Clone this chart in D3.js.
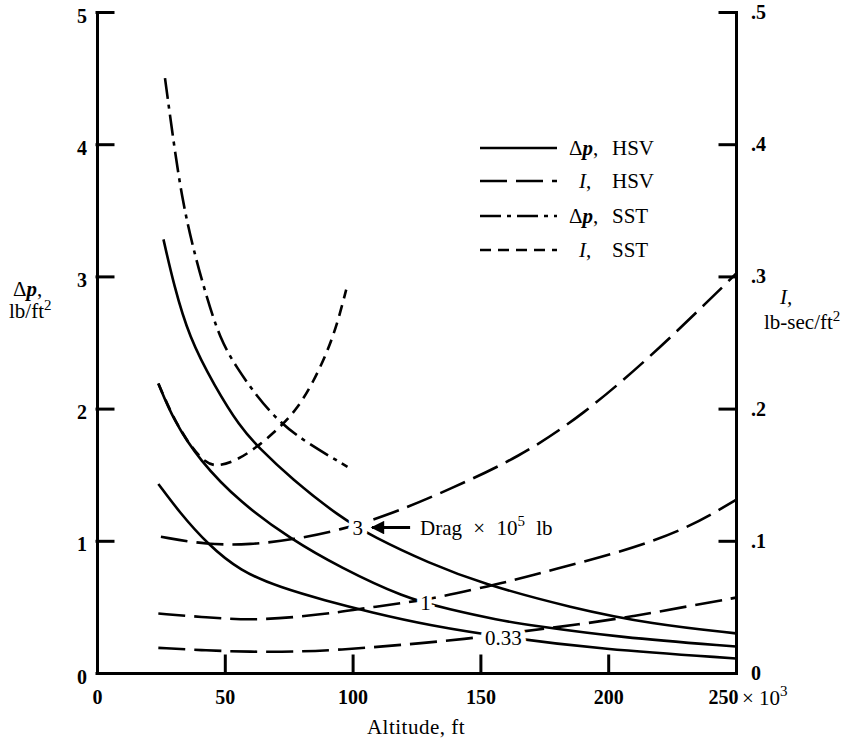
<!DOCTYPE html>
<html lang="en">
<head>
<meta charset="UTF-8">
<title>Overpressure and impulse vs altitude</title>
<script src="https://cdn.jsdelivr.net/npm/d3@7"></script>
<style>
  body { margin: 0; background: #fff; }
  svg { font-family: "Liberation Serif", "Times New Roman", serif; }
  .axis path, .axis line { stroke: #000; stroke-width: 3; stroke-linecap: square; }
  .axis text { font-size: 20px; font-weight: bold; fill: #000; font-family: "Liberation Serif", serif; }
  .curve { fill: none; stroke: #000; stroke-width: 2.6; }
  .lbl { font-size: 21px; fill: #000; }
</style>
</head>
<body>
<script>
// altitude in thousands of ft
const xTicks = [0, 50, 100, 150, 200, 250];
const yTicks = [0, 1, 2, 3, 4, 5];
const yRightTicks = [0, 0.1, 0.2, 0.3, 0.4, 0.5];

// delta p, HSV (solid), one curve per drag level
const altDpHsv3 = [26, 30, 36, 46, 56, 63, 76, 95, 108, 130, 150, 186, 217, 250];
const dpHsv3 = [3.28, 2.94, 2.54, 2.17, 1.86, 1.71, 1.47, 1.18, 1.03, 0.83, 0.68, 0.49, 0.37, 0.30];
const altDpHsv1 = [24, 30, 40, 56, 76, 95, 120, 138, 157, 170, 204, 250];
const dpHsv1 = [2.19, 1.91, 1.61, 1.29, 1.01, 0.80, 0.57, 0.48, 0.40, 0.36, 0.27, 0.20];
const altDpHsv033 = [24, 32.5, 43, 56, 72, 89, 107, 130, 159, 197, 250];
const dpHsv033 = [1.43, 1.21, 0.98, 0.77, 0.645, 0.55, 0.46, 0.36, 0.27, 0.18, 0.11];

// impulse, HSV (long dash)
const altIHsv3 = [25, 43, 60, 77, 95, 115, 138, 165, 190, 217, 240, 250];
const iHsv3 = [0.103, 0.097, 0.097, 0.101, 0.108, 0.120, 0.139, 0.163, 0.195, 0.240, 0.283, 0.302];
const altIHsv1 = [24, 43, 60, 77, 95, 108, 128, 147, 163, 178, 204, 230, 250];
const iHsv1 = [0.045, 0.042, 0.040, 0.042, 0.046, 0.050, 0.055, 0.063, 0.070, 0.078, 0.091, 0.108, 0.131];
const altIHsv033 = [24, 43, 60, 77, 95, 118, 146, 160, 190, 210, 230, 250];
const iHsv033 = [0.019, 0.017, 0.016, 0.016, 0.0175, 0.021, 0.026, 0.030, 0.037, 0.043, 0.050, 0.057];

// SST
const altDpSst = [26.6, 30, 33.2, 37.1, 42.3, 48.2, 54.7, 62.6, 71.7, 82.2, 98];
const dpSst = [4.50, 4.01, 3.60, 3.25, 2.88, 2.52, 2.31, 2.09, 1.89, 1.74, 1.56];
const altISst = [24, 29.8, 36.4, 42.3, 47, 54.9, 62.7, 71.7, 78.4, 84.6, 90.1, 94, 97.5];
const iSst = [0.219, 0.193, 0.172, 0.159, 0.156, 0.161, 0.171, 0.186, 0.200, 0.220, 0.243, 0.264, 0.290];

const legendSymbols = ["Δp", "I", "Δp", "I"];
const legendCraft = ["HSV", "HSV", "SST", "SST"];

const dragLabels = ["3", "1", "0.33"];
const dragLabelAlt = [102, 128.5, 159];
const dragLabelDp = [1.10, 0.53, 0.265];

const width = 858, height = 740;
const svg = d3.select("body").append("svg")
  .attr("width", width)
  .attr("height", height);

const x = d3.scaleLinear().domain([0, 250]).range([97, 736]);
const y = d3.scaleLinear().domain([0, 5]).range([673, 12]);
const yI = d3.scaleLinear().domain([0, 0.5]).range([673, 12]);

const dashes = { solid: null, longDash: "27,9", dashDot: "21,6,4,6", shortDash: "11,7" };

const series = [
  { alt: altDpHsv3, v: dpHsv3, scale: y, dash: dashes.solid },
  { alt: altDpHsv1, v: dpHsv1, scale: y, dash: dashes.solid },
  { alt: altDpHsv033, v: dpHsv033, scale: y, dash: dashes.solid },
  { alt: altIHsv3, v: iHsv3, scale: yI, dash: dashes.longDash },
  { alt: altIHsv1, v: iHsv1, scale: yI, dash: dashes.longDash },
  { alt: altIHsv033, v: iHsv033, scale: yI, dash: dashes.longDash },
  { alt: altDpSst, v: dpSst, scale: y, dash: dashes.dashDot },
  { alt: altISst, v: iSst, scale: yI, dash: dashes.shortDash }
];

series.forEach(s => {
  const line = d3.line()
    .x(d => x(d[0]))
    .y(d => s.scale(d[1]))
    .curve(d3.curveBasis);
  svg.append("path")
    .attr("class", "curve")
    .attr("d", line(d3.zip(s.alt, s.v)))
    .attr("stroke-dasharray", s.dash);
});

// axes
svg.append("g").attr("class", "axis")
  .attr("transform", "translate(" + x(0) + ",0)")
  .call(d3.axisLeft(y).tickValues(yTicks).tickSizeInner(-16).tickSizeOuter(0)
    .tickPadding(10).tickFormat(d3.format("d")))
  .selectAll(".tick text").attr("dy", "0.5em");

const xAxis = svg.append("g").attr("class", "axis")
  .attr("transform", "translate(0," + y(0) + ")")
  .call(d3.axisBottom(x).tickValues(xTicks).tickSizeInner(-17).tickSizeOuter(0)
    .tickPadding(17).tickFormat(d3.format("d")));
xAxis.selectAll(".tick text").filter(d => d === 250).attr("x", -13);

svg.append("g").attr("class", "axis")
  .attr("transform", "translate(" + x(250) + ",0)")
  .call(d3.axisRight(yI).tickValues(yRightTicks).tickSizeInner(-16).tickSizeOuter(0)
    .tickPadding(15).tickFormat(d => d === 0 ? "0" : d3.format(".1f")(d).replace(/^0/, "")));

// axis titles
const t1 = svg.append("text").attr("class", "lbl").attr("x", 13).attr("y", 296).attr("font-size", 22);
t1.append("tspan").text("Δ");
t1.append("tspan").attr("font-style", "italic").attr("font-weight", "bold").text("p");
t1.append("tspan").text(",");
const t2 = svg.append("text").attr("class", "lbl").attr("x", 9).attr("y", 318).attr("font-size", 22);
t2.append("tspan").text("lb/ft");
t2.append("tspan").attr("dy", -8).attr("font-size", 15).text("2");

svg.append("text").attr("class", "lbl").attr("x", 780).attr("y", 304).attr("font-size", 22)
  .attr("font-style", "italic").text("I,");
const t3 = svg.append("text").attr("class", "lbl").attr("x", 764).attr("y", 329).attr("font-size", 22);
t3.append("tspan").text("lb-sec/ft");
t3.append("tspan").attr("dy", -8).attr("font-size", 15).text("2");

const t4 = svg.append("text").attr("class", "lbl").attr("x", 742).attr("y", 705).attr("font-size", 22);
t4.append("tspan").text("× 10");
t4.append("tspan").attr("dy", -9).attr("font-size", 15).text("3");

svg.append("text").attr("class", "lbl").attr("x", 416).attr("y", 734).attr("font-size", 23)
  .attr("text-anchor", "middle").attr("letter-spacing", 0.5).text("Altitude, ft");

// legend
const legendRowY = [148, 181, 216, 250];
const legendDash = [dashes.solid, dashes.longDash, dashes.dashDot, dashes.shortDash];
legendSymbols.forEach((sym, i) => {
  svg.append("line")
    .attr("x1", 480).attr("x2", 557)
    .attr("y1", legendRowY[i]).attr("y2", legendRowY[i])
    .attr("stroke", "#000").attr("stroke-width", 2.6)
    .attr("stroke-dasharray", legendDash[i]);
  const t = svg.append("text").attr("class", "lbl").attr("y", legendRowY[i] + 7);
  if (sym === "Δp") {
    t.attr("x", 569);
    t.append("tspan").text("Δ");
    t.append("tspan").attr("font-style", "italic").attr("font-weight", "bold").text("p");
    t.append("tspan").text(",");
  } else {
    t.attr("x", 579);
    t.append("tspan").attr("font-style", "italic").text("I");
    t.append("tspan").text(",");
  }
  t.append("tspan").attr("x", 612).text(legendCraft[i]);
});

// drag labels on the curves
dragLabels.forEach((d, i) => {
  svg.append("text").attr("class", "lbl")
    .attr("x", x(dragLabelAlt[i])).attr("y", y(dragLabelDp[i]) + 7)
    .attr("text-anchor", "middle")
    .attr("stroke", "#fff").attr("stroke-width", 10).attr("paint-order", "stroke")
    .text(d);
});

svg.append("defs").append("marker")
  .attr("id", "head").attr("viewBox", "0 0 10 10")
  .attr("refX", 9).attr("refY", 5)
  .attr("markerWidth", 5).attr("markerHeight", 4.5)
  .attr("orient", "auto-start-reverse")
  .append("path").attr("d", "M0,0L10,5L0,10z").attr("fill", "#000");

svg.append("line")
  .attr("x1", x(122.5)).attr("x2", x(107.6))
  .attr("y1", y(1.10)).attr("y2", y(1.10))
  .attr("stroke", "#000").attr("stroke-width", 3)
  .attr("marker-end", "url(#head)");

const t5 = svg.append("text").attr("class", "lbl").attr("x", x(126.4)).attr("y", y(1.10) + 7)
  .attr("word-spacing", 6);
t5.append("tspan").text("Drag × 10");
t5.append("tspan").attr("dy", -9).attr("font-size", 15).text("5");
t5.append("tspan").attr("dy", 9).text(" lb");
</script>
</body>
</html>
